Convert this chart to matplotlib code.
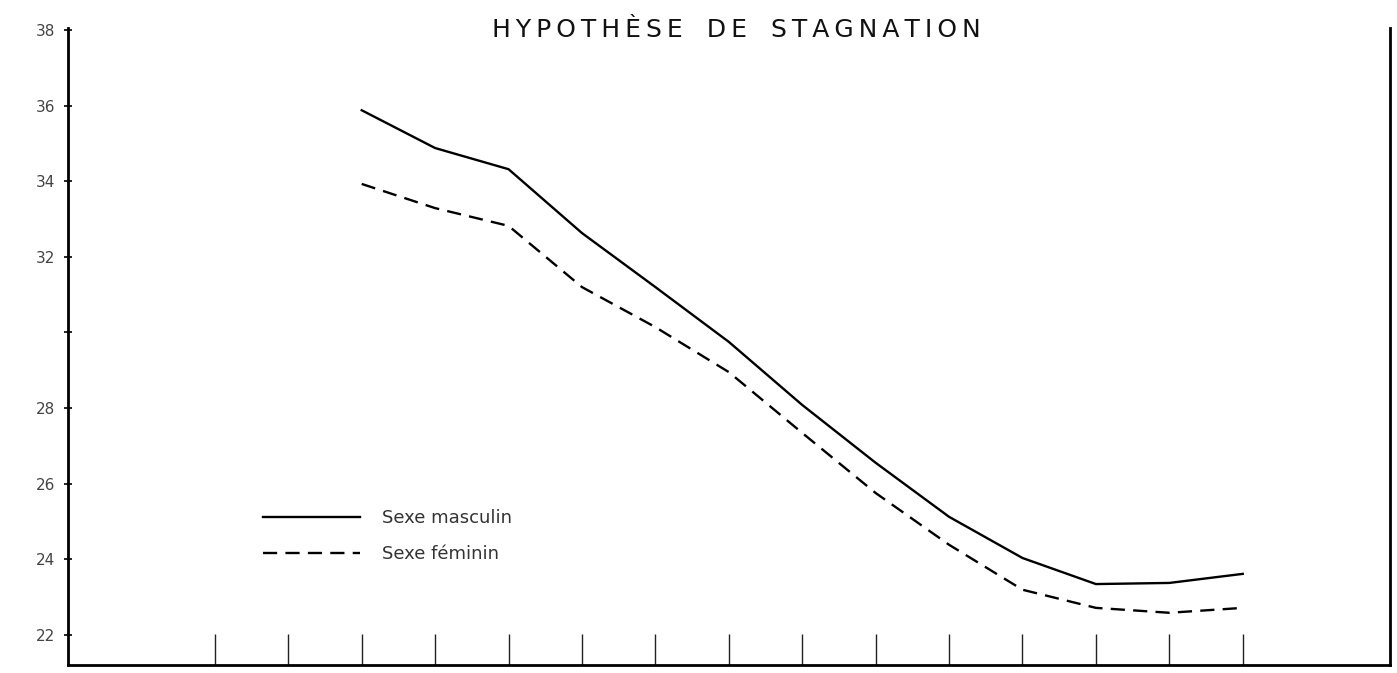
import numpy as np
import matplotlib
matplotlib.use('Agg')
import matplotlib.pyplot as plt

# périodes (positions sur l'axe horizontal, sans étiquettes)
periodes = [4, 5, 6, 7, 8, 9, 10, 11, 12, 13, 14, 15, 16]

# hypothèse de stagnation
masculin = [35.88, 34.88, 34.32, 32.63, 31.20, 29.75, 28.08, 26.55, 25.12, 24.03, 23.34, 23.37, 23.61]
feminin = [33.93, 33.29, 32.82, 31.20, 30.14, 28.95, 27.34, 25.75, 24.38, 23.19, 22.71, 22.58, 22.71]

y_ticks = [22, 24, 26, 28, 30, 32, 34, 36, 38]
y_labels = ['22', '24', '26', '28', '', '32', '34', '36', '38']
x_ticks = list(range(2, 17))

fig = plt.figure(figsize=(13.97, 6.73), dpi=100)
ax = fig.add_axes([0.0487, 0.012, 0.946, 0.946])

ax.plot(periodes, masculin, color='black', lw=1.7, label='Sexe masculin')
ax.plot(periodes, feminin, color='black', lw=1.7, dashes=(6, 3.5), label='Sexe féminin')

ax.set_xlim(0, 18)
ax.set_ylim(21.2, 38.05)

ax.set_xticks(x_ticks)
ax.set_xticklabels([])
ax.tick_params(axis='x', direction='in', length=22, width=1, color='#222')
ax.set_yticks(y_ticks)
ax.set_yticklabels(y_labels)
ax.tick_params(axis='y', direction='inout', length=6, width=1.2, labelsize=11,
               labelcolor='#444', pad=6)

ax.spines['top'].set_visible(False)
for s in ['left', 'bottom', 'right']:
    ax.spines[s].set_linewidth(2)

leg = ax.legend(loc='upper left', bbox_to_anchor=(0.135, 0.27), frameon=False,
                handlelength=5.4, handletextpad=1.2, labelspacing=1.0,
                prop={'size': 13})
for t in leg.get_texts():
    t.set_color('#333')

titre = '\u2009'.join('HYPOTHÈSE') + '   ' + '\u2009'.join('DE') + '   ' + '\u2009'.join('STAGNATION')
fig.text(0.527, 0.955, titre, ha='center', va='center', fontsize=18, color='#111')

fig.savefig('out.png', dpi=100, facecolor='white')
